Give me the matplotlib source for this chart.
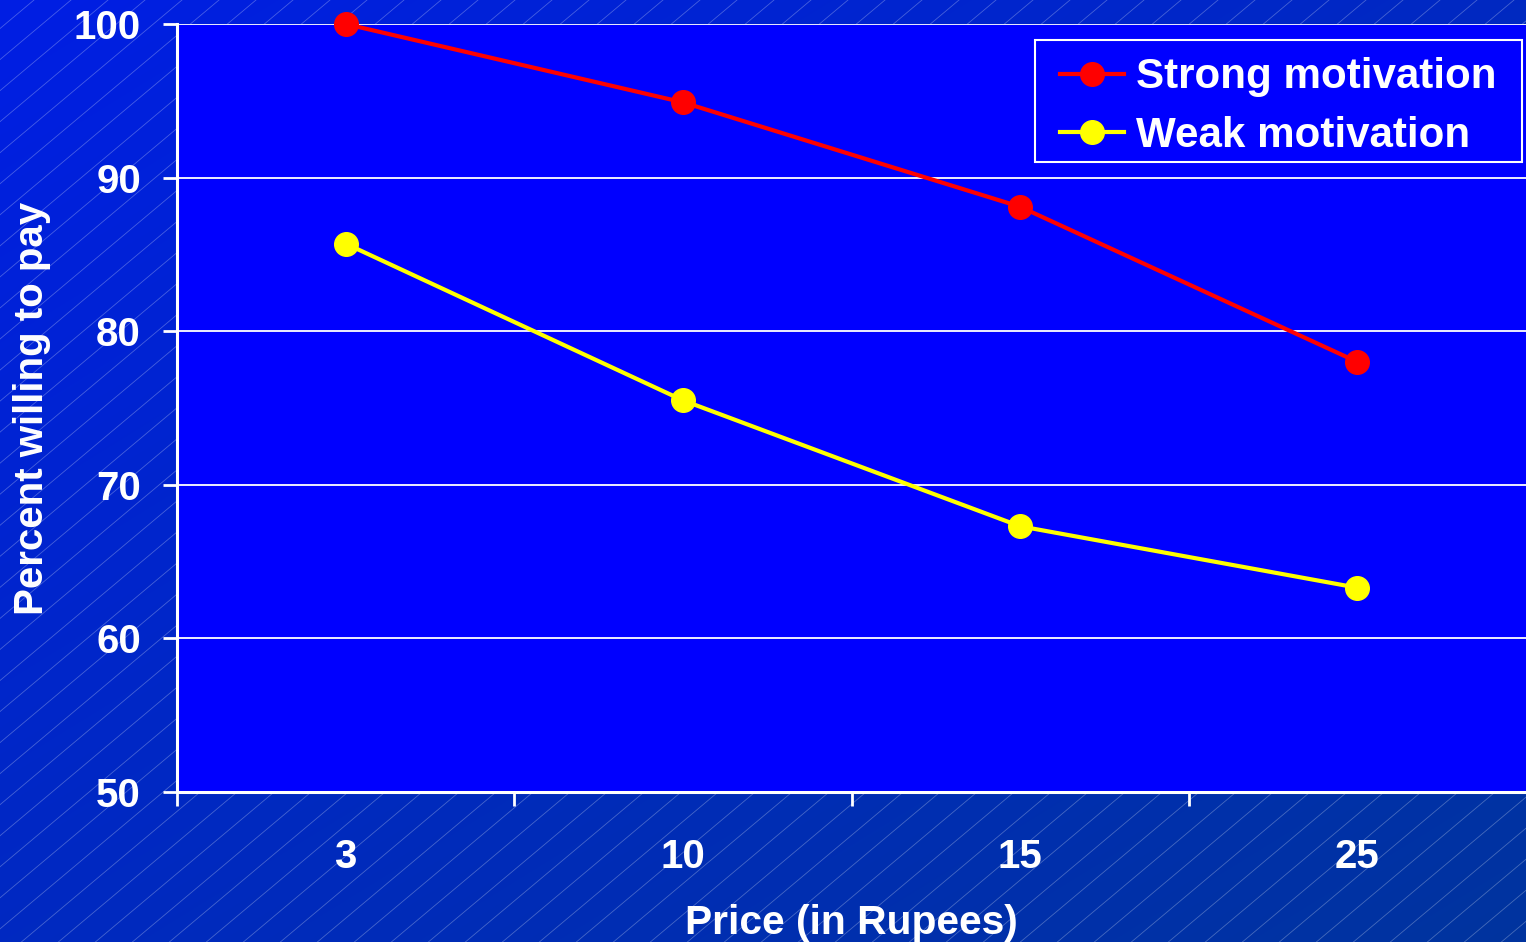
import numpy as np
import matplotlib
matplotlib.use("Agg")
import matplotlib.pyplot as plt
from matplotlib.patches import Rectangle

plt.rcParams['font.family'] = ['Liberation Sans', 'DejaVu Sans']
plt.rcParams['font.weight'] = 'bold'

prices = ["3", "10", "15", "25"]
strong = [100.0, 94.9, 88.1, 78.0]
weak = [85.7, 75.5, 67.3, 63.3]
yticks = [50, 60, 70, 80, 90, 100]

W, H = 1526, 942
fig = plt.figure(figsize=(W / 100, H / 100), dpi=100)

# slide background: diagonal gradient plus faint hatch lines
bg = fig.add_axes([0, 0, 1, 1], zorder=-10)
yy, xx = np.mgrid[0:H, 0:W]
t = (xx / W + yy / H) / 2.0
top_left = np.array([0.0, 30, 228]) / 255
bot_right = np.array([0.0, 52, 158]) / 255
img = top_left[None, None, :] * (1 - t[..., None]) + bot_right[None, None, :] * t[..., None]
bg.imshow(img, extent=(0, W, H, 0), aspect='auto')
slope = np.tan(np.radians(40))
for x0 in np.arange(-H / slope - 40, W + 40, 37):
    bg.plot([x0, x0 + H / slope], [H, 0], color='white', lw=0.6, alpha=0.28)
bg.set_xlim(0, W)
bg.set_ylim(H, 0)
bg.axis('off')

ax = fig.add_axes([177 / W, 150 / H, 1 - 177 / W, 768 / H])
ax.set_facecolor('#0000ff')
x = np.arange(len(prices))

ax.plot(x, strong, color='#ff0000', lw=3, marker='o', ms=17,
        label='Strong motivation', clip_on=False, zorder=5)
ax.plot(x, weak, color='#ffff00', lw=3, marker='o', ms=17,
        label='Weak motivation', clip_on=False, zorder=5)

ax.set_xlim(-0.5, len(prices) - 0.5)
ax.set_ylim(50, 100)
ax.set_yticks(yticks)
ax.set_xticks(x)
ax.set_xticklabels(prices)
ax.set_xticks(np.arange(-0.5, len(prices) - 0.5, 1.0), minor=True)
ax.grid(axis='y', color='white', lw=1.3)
ax.set_axisbelow(True)

for side in ['top', 'right']:
    ax.spines[side].set_visible(False)
for side in ['left', 'bottom']:
    ax.spines[side].set_color('white')
    ax.spines[side].set_linewidth(2.2)

ax.tick_params(axis='y', colors='white', labelsize=29, length=10, width=2, pad=16)
ax.tick_params(axis='x', which='major', colors='white', labelsize=29, length=0, pad=33)
ax.tick_params(axis='x', which='minor', colors='white', length=10, width=2)

ax.set_ylabel('Percent willing to pay', color='white', fontsize=29, fontweight='bold')
ax.yaxis.set_label_coords(-0.1075, 0.5)
ax.set_xlabel('Price (in Rupees)', color='white', fontsize=29.3, fontweight='bold')
ax.xaxis.set_label_coords(0.5, -0.17)
ax.xaxis.label.set_va('center')
ax.yaxis.label.set_va('center')

# legend without its own frame; the box is drawn afterwards with a tighter vertical pad
pad_top, pad_bot = 8, 19
leg = ax.legend(loc='upper right', bbox_to_anchor=(1522 / W, (H - 40 + pad_top) / H),
                bbox_transform=fig.transFigure, borderaxespad=0,
                fontsize=30.3, frameon=False,
                handlelength=1.52, handletextpad=0.29, labelspacing=0.45,
                borderpad=0.6)
for txt in leg.get_texts():
    txt.set_color('white')

fig.canvas.draw()
bb = leg.get_window_extent()
box = Rectangle((bb.x0 / W, (bb.y0 + pad_bot) / H), bb.width / W,
                (bb.height - pad_top - pad_bot) / H,
                transform=fig.transFigure, facecolor='#0000ff', edgecolor='white',
                lw=1.5, zorder=4)
ax.add_artist(box)
box.set_clip_on(False)
leg.set_zorder(6)

fig.savefig('out.png', dpi=100)
